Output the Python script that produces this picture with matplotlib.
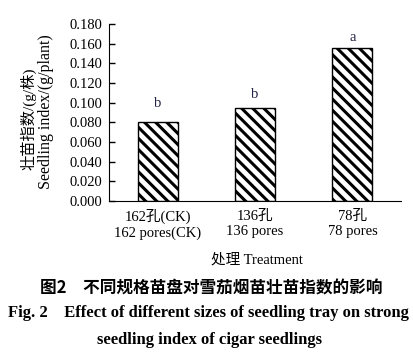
import matplotlib
matplotlib.use("Agg")
import matplotlib.pyplot as plt

# data
treatments = ["162孔(CK)\n162 pores(CK)", "136孔\n136 pores", "78孔\n78 pores"]
index_values = [0.0805, 0.0945, 0.1555]
sig_letters = ["b", "b", "a"]
y_ticks = [0.000, 0.020, 0.040, 0.060, 0.080, 0.100, 0.120, 0.140, 0.160, 0.180]

# letter offsets above each bar (points)
letter_offsets = [13.5, 9.5, 7.5]

FAM = ["Liberation Serif", "Noto Sans CJK SC"]
plt.rcParams["font.family"] = FAM
plt.rcParams["hatch.linewidth"] = 2.2

fig = plt.figure(figsize=(4.14, 3.53), dpi=100)
ax = fig.add_axes([0.263, 0.431, 0.706, 0.501])

x = range(len(treatments))
bars = ax.bar(x, index_values, width=0.41, color="white", edgecolor="black",
              hatch="\\\\\\", linewidth=1.0)

for b, v, s, off in zip(bars, index_values, sig_letters, letter_offsets):
    ax.annotate(s, (b.get_x() + b.get_width() / 2, v), xytext=(0, off),
                textcoords="offset points", ha="center", va="center",
                fontsize=10.5, color="#222244")

ax.set_xlim(-0.5, 2.5)
ax.set_ylim(0, 0.18)
ax.set_yticks(y_ticks)
ax.set_yticklabels([f"{t:.3f}" for t in y_ticks], fontsize=10.5)
ax.set_xticks(list(x))
ax.set_xticklabels(treatments, fontsize=10.5, linespacing=1.25)
ax.tick_params(axis="y", direction="in", length=4, width=1, pad=5)
ax.tick_params(axis="x", length=0, pad=6)
ax.spines["top"].set_visible(False)
ax.spines["right"].set_visible(False)

fig.text(257 / 414, 1 - 260 / 353, "处理 Treatment", ha="center", va="center",
         fontsize=10.5)
fig.text(28 / 414, 1 - 119 / 353, "壮苗指数/(g/株)", rotation=90,
         ha="center", va="center", fontsize=11)
fig.text(46 / 414, 1 - 112 / 353, "Seedling index/(g/plant)", rotation=90,
         ha="center", va="center", fontsize=11.5)

fig.text(211 / 414, 1 - 288 / 353, "图2　不同规格苗盘对雪茄烟苗壮苗指数的影响",
         ha="center", va="center", fontsize=12, fontweight="bold",
         family=["Noto Sans CJK SC", "Liberation Serif"])
fig.text(208 / 414, 1 - 313 / 353,
         "Fig. 2    Effect of different sizes of seedling tray on strong",
         ha="center", va="center", fontsize=12, fontweight="bold")
fig.text(210 / 414, 1 - 340 / 353, "seedling index of cigar seedlings",
         ha="center", va="center", fontsize=12, fontweight="bold")

fig.savefig("out.png", dpi=100)
